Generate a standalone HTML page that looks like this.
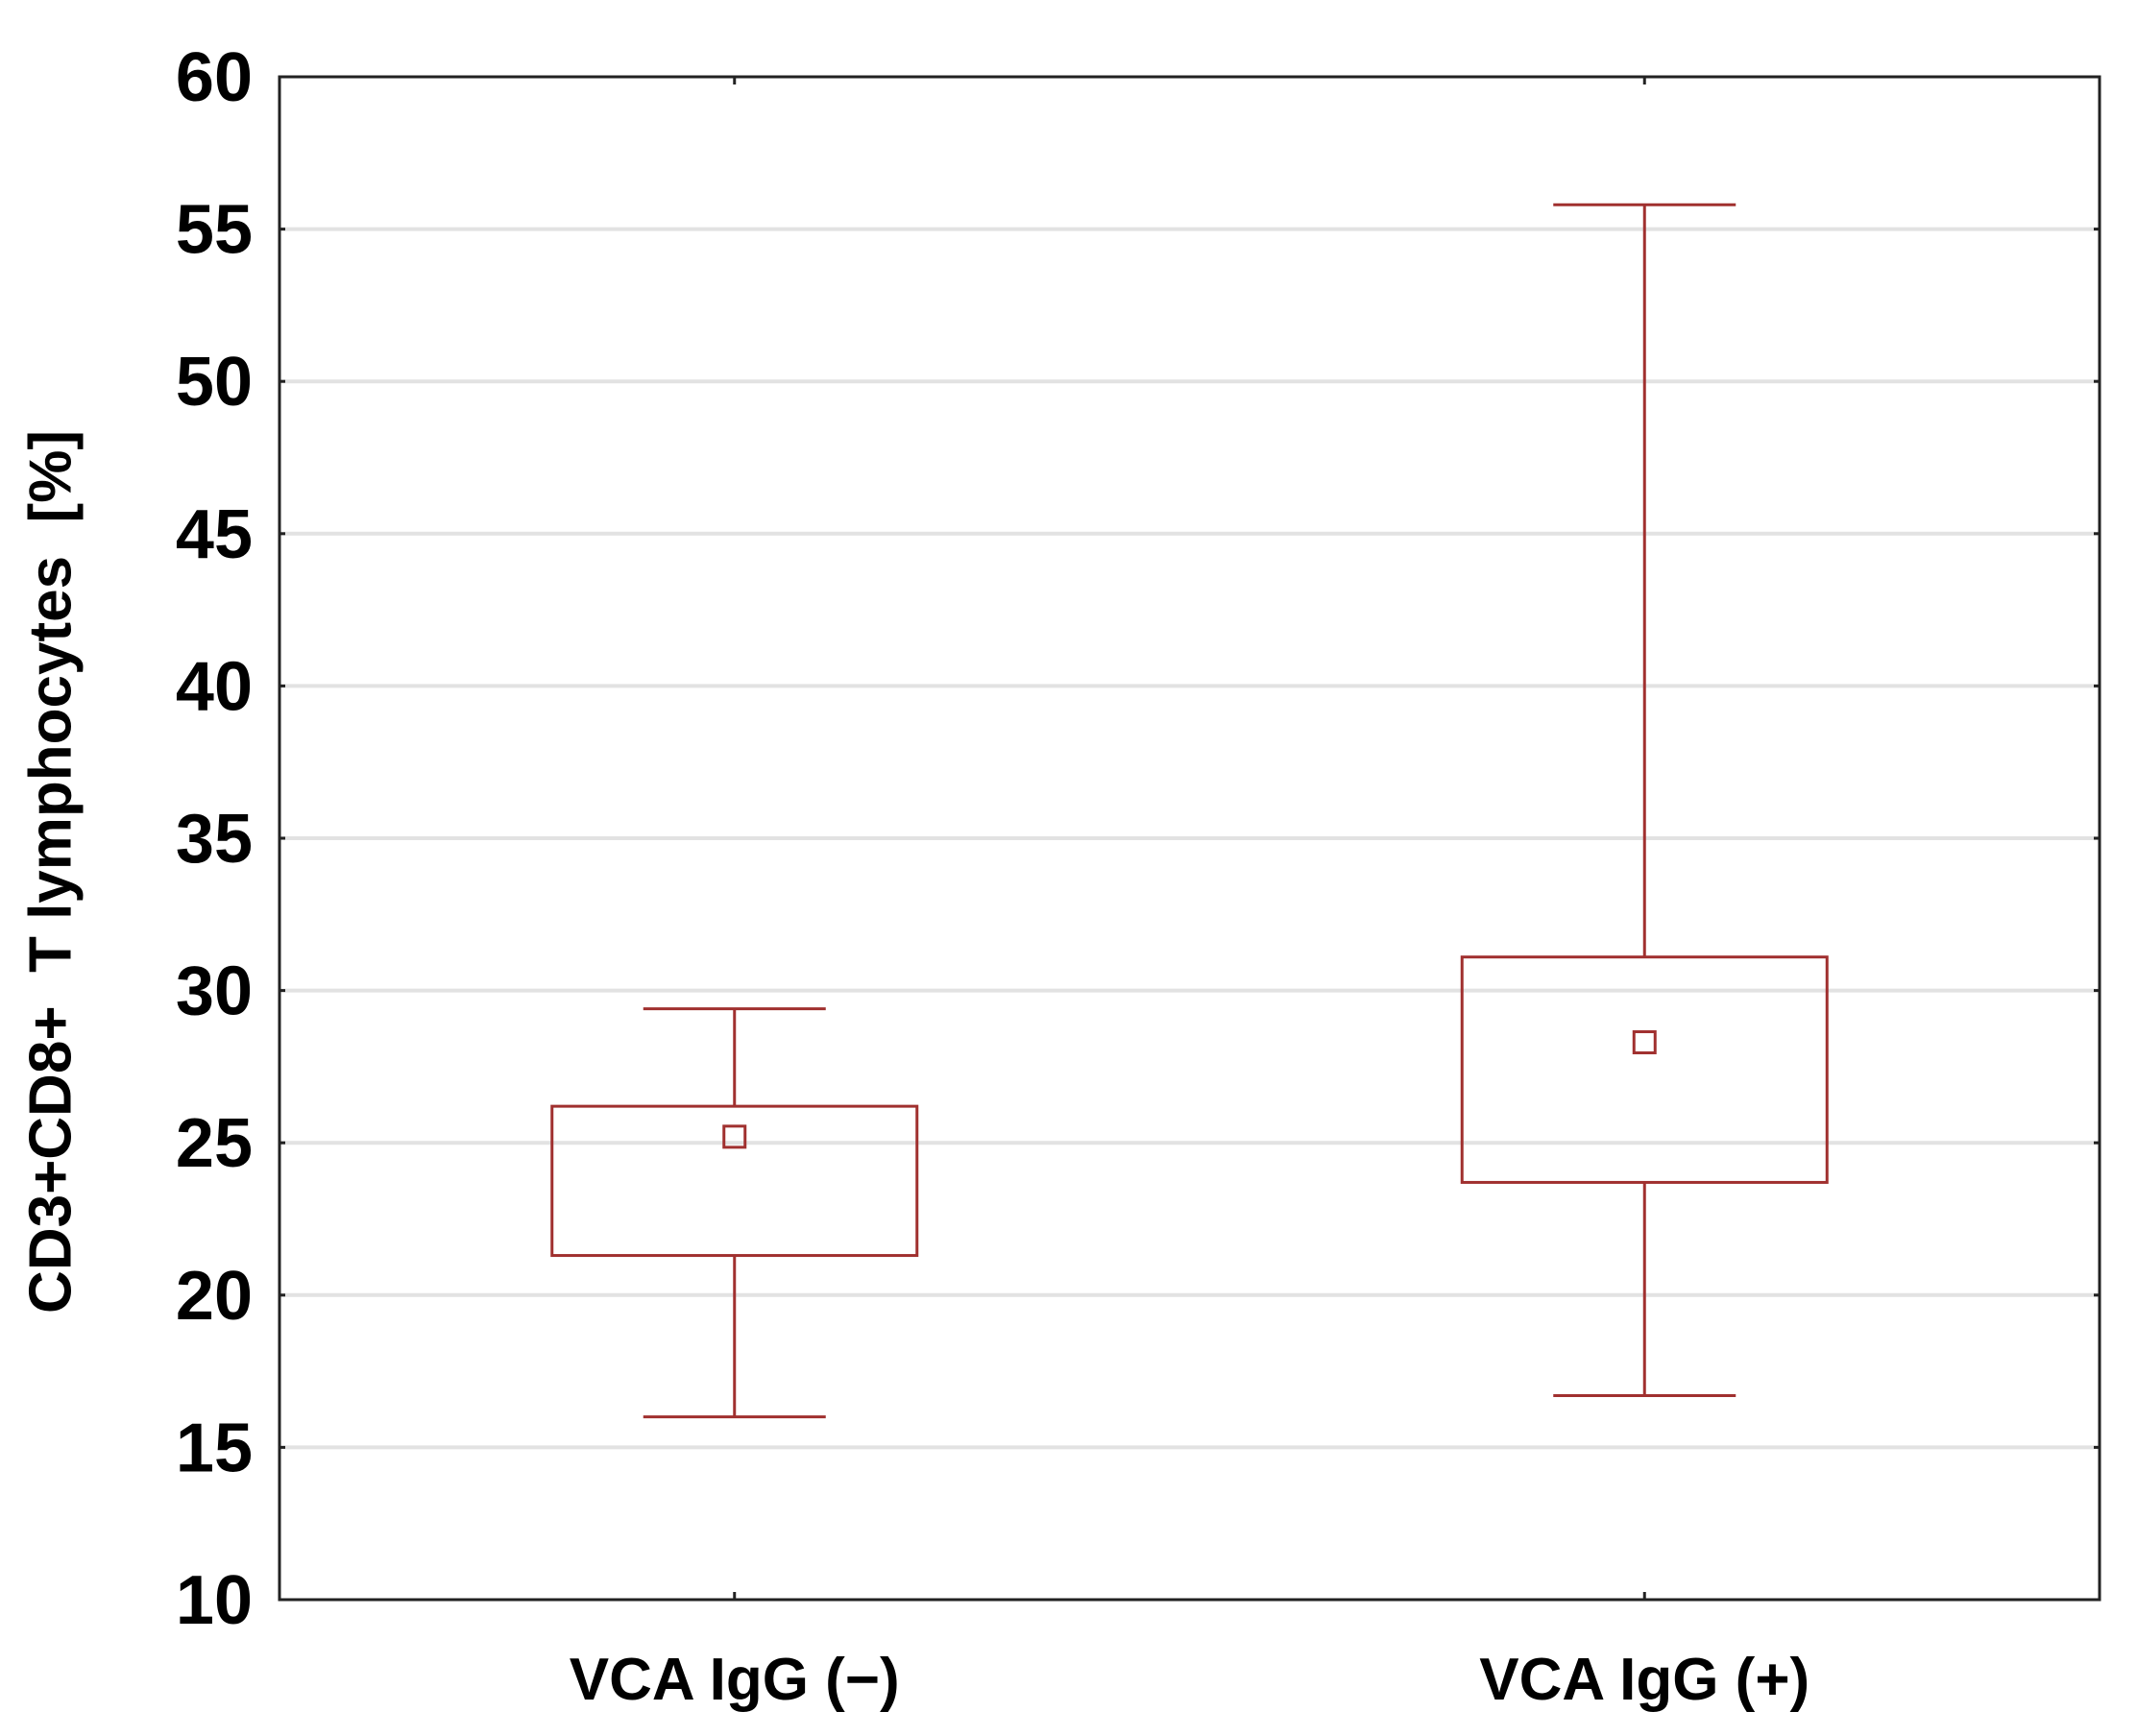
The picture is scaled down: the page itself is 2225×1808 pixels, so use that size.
<!DOCTYPE html>
<html><head><meta charset="utf-8"><style>
html,body{margin:0;padding:0;background:#fff;}
svg{display:block;}
text{font-family:"Liberation Sans Narrow","Liberation Sans",sans-serif;font-weight:bold;fill:#000;}
</style></head><body>
<svg id="chart" width="2225" height="1808" viewBox="0 0 2225 1808">
<g id="grid"></g>
<g id="marks"></g>
<g id="axes"></g>
<text x="57" y="908" font-size="62" text-anchor="middle" dominant-baseline="middle" style="white-space:pre" xml:space="preserve" transform="rotate(-90 57 908)">CD3+CD8+  T lymphocytes  [%]</text>
</svg>
<script>
const categories = ["VCA IgG (\u2212)", "VCA IgG (+)"];
const whiskerLow = [16.0, 16.7];
const boxLow = [21.3, 23.7];
const meanVal = [25.2, 28.3];
const boxHigh = [26.2, 31.1];
const whiskerHigh = [29.4, 55.8];
const yTicks = [10,15,20,25,30,35,40,45,50,55,60];

const L=291,R=2186,T=80,B=1666,yMin=10,yMax=60;
const NS="http://www.w3.org/2000/svg";
function y(v){return B-(v-yMin)/(yMax-yMin)*(B-T);}
function x(i){return L+(R-L)*(i+0.5)/categories.length;}
function mk(tag,attrs,parent){const e=document.createElementNS(NS,tag);for(const k in attrs)e.setAttribute(k,attrs[k]);parent.appendChild(e);return e;}
const grid=document.getElementById('grid'),marks=document.getElementById('marks'),axes=document.getElementById('axes');
const col="#a0302f";
yTicks.forEach(t=>{
  if(t>yMin&&t<yMax){
    const g=mk('line',{x1:L,x2:R,y1:y(t),y2:y(t),stroke:"#e2e2e2","stroke-width":4},grid);
    
    
  }
  const tk=mk('line',{x1:L,x2:L+6,y1:y(t),y2:y(t),stroke:"#222","stroke-width":3},axes);
  
  
  const tk2=mk('line',{x1:R-6,x2:R,y1:y(t),y2:y(t),stroke:"#222","stroke-width":3},axes);
  
  
  const lb=mk('text',{x:L-28,y:y(t)+25,"font-size":72,"text-anchor":"end"},axes);
  lb.textContent=t;
  
  
});
const frame=mk('rect',{x:L,y:T,width:R-L,height:B-T,fill:"none",stroke:"#222","stroke-width":3},axes);


categories.forEach((c,i)=>{
  const cx=x(i);
  const g=mk('g',{},marks);
  
  
  const s={stroke:col,"stroke-width":3,fill:"none"};
  const w1=mk('line',Object.assign({x1:cx,x2:cx,y1:y(whiskerHigh[i]),y2:y(boxHigh[i])},s),g);
  
  
  const w2=mk('line',Object.assign({x1:cx,x2:cx,y1:y(boxLow[i]),y2:y(whiskerLow[i])},s),g);
  
  
  const c1=mk('line',Object.assign({x1:cx-95,x2:cx+95,y1:y(whiskerHigh[i]),y2:y(whiskerHigh[i])},s),g);
  
  
  const c2=mk('line',Object.assign({x1:cx-95,x2:cx+95,y1:y(whiskerLow[i]),y2:y(whiskerLow[i])},s),g);
  
  
  const bx=mk('rect',Object.assign({x:cx-190,width:380,y:y(boxHigh[i]),height:y(boxLow[i])-y(boxHigh[i])},s),g);
  
  
  const m=mk('rect',Object.assign({x:cx-11,width:22,y:y(meanVal[i])-11,height:22},s),g);
  
  
  const xt=mk('line',{x1:cx,x2:cx,y1:B,y2:B-8,stroke:"#222","stroke-width":3},axes);
  
  
  const xt2=mk('line',{x1:cx,x2:cx,y1:T,y2:T+8,stroke:"#222","stroke-width":3},axes);
  
  
  const lb=mk('text',{x:cx,y:1770,"font-size":62,"text-anchor":"middle"},axes);
  lb.textContent=c;
  
  
});
</script>
</body></html>
